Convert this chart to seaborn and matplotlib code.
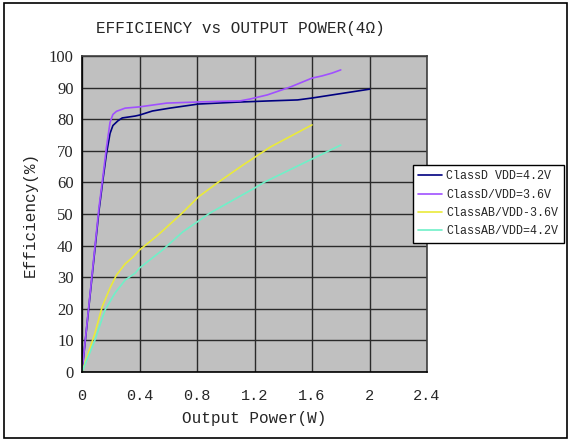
import matplotlib
matplotlib.use('Agg')
import matplotlib.pyplot as plt
import seaborn as sns
import pandas as pd
from matplotlib.patches import Rectangle

# data
d42_x = [0, 0.118, 0.146, 0.17, 0.195, 0.215, 0.25, 0.28, 0.37, 0.40, 0.49, 0.61, 0.81, 1.08, 1.31, 1.50, 1.60, 2.0]
d42_y = [0, 51, 61, 69, 75.5, 78, 79.5, 80.4, 81, 81.3, 82.6, 83.5, 84.8, 85.4, 85.8, 86.1, 86.7, 89.5]

d36_x = [0, 0.118, 0.146, 0.17, 0.195, 0.215, 0.24, 0.30, 0.40, 0.59, 0.84, 1.10, 1.17, 1.29, 1.45, 1.60, 1.67, 1.74, 1.80]
d36_y = [0, 52, 62, 71, 79, 81.5, 82.5, 83.5, 83.9, 85.1, 85.5, 85.8, 86.4, 87.7, 90.2, 93, 93.7, 94.6, 95.6]

ab36_x = [0, 0.09, 0.14, 0.195, 0.24, 0.30, 0.355, 0.40, 0.53, 0.69, 0.81, 0.94, 1.12, 1.31, 1.60]
ab36_y = [0, 12.3, 20.6, 26.6, 30.7, 34.2, 36.4, 38.6, 43.4, 50, 55.4, 59.8, 65.5, 71.2, 78.2]

ab42_x = [0, 0.09, 0.16, 0.23, 0.30, 0.37, 0.40, 0.56, 0.70, 0.89, 1.20, 1.27, 1.60, 1.80]
ab42_y = [0, 10.1, 19.6, 25, 29.1, 31.3, 32.9, 38.6, 44.3, 50.3, 58.2, 60.1, 67.4, 71.8]

labels = ['ClassD VDD=4.2V', 'ClassD/VDD=3.6V', 'ClassAB/VDD-3.6V', 'ClassAB/VDD=4.2V']
colors = ['#000080', '#a050ff', '#eaea3a', '#70f0c8']

xticks = [0, 0.4, 0.8, 1.2, 1.6, 2, 2.4]
xtick_labels = ['0', '0.4', '0.8', '1.2', '1.6', '2', '2.4']
yticks = list(range(0, 101, 10))

frames = []
for lab, xs, ys in zip(labels, [d42_x, d36_x, ab36_x, ab42_x], [d42_y, d36_y, ab36_y, ab42_y]):
    frames.append(pd.DataFrame({'power': xs, 'eff': ys, 'series': lab}))
df = pd.concat(frames, ignore_index=True)

sns.set_style('white')
mono = 'Liberation Mono'
serif = 'Liberation Serif'

fig = plt.figure(figsize=(5.7, 4.41), dpi=100)
ax = fig.add_axes([82 / 570, 1 - 372 / 441, 345 / 570, 316 / 441])
ax.set_facecolor('#c0c0c0')

sns.lineplot(data=df, x='power', y='eff', hue='series', hue_order=labels,
             palette=dict(zip(labels, colors)), estimator=None, sort=False,
             linewidth=1.2, ax=ax)

ax.set_xlim(0, 2.4)
ax.set_ylim(0, 100)
ax.set_xticks(xticks)
ax.set_xticklabels(xtick_labels, fontfamily=mono, fontsize=11)
ax.set_yticks(yticks)
ax.set_yticklabels([str(v) for v in yticks], fontfamily=serif, fontsize=12)
ax.tick_params(length=0, pad=12)
ax.tick_params(axis='y', pad=6)
ax.grid(True, color='#2a2a2a', linewidth=1.0)
ax.set_axisbelow(True)
for s in ax.spines.values():
    s.set_color('#404040')
    s.set_linewidth(1.2)
ax.spines['left'].set_color('black')
ax.spines['bottom'].set_color('black')

ax.set_xlabel('Output Power(W)', fontfamily=mono, fontsize=11.5, labelpad=6)
ax.set_ylabel('Efficiency(%)', fontfamily=mono, fontsize=11.5, labelpad=8)
fig.text(240 / 570, 1 - 29 / 441, 'EFFICIENCY vs OUTPUT POWER(4Ω)', fontfamily=mono,
         fontsize=11.5, ha='center', va='center')

leg = ax.legend(loc='upper left', bbox_to_anchor=(413 / 570, 1 - 165 / 441),
                bbox_transform=fig.transFigure, borderaxespad=0,
                prop={'family': mono, 'size': 8.4}, frameon=True, fancybox=False,
                handlelength=2.0, handletextpad=0.4, labelspacing=0.55,
                borderpad=0.45)
leg.get_frame().set_edgecolor('black')
leg.get_frame().set_linewidth(1.0)
leg.get_frame().set_alpha(1)

fig.patches.append(Rectangle((4 / 570, 3 / 441), 563 / 570, 435 / 441, transform=fig.transFigure,
                             fill=False, edgecolor='black', linewidth=1.2))

fig.savefig('out.png', dpi=100)
